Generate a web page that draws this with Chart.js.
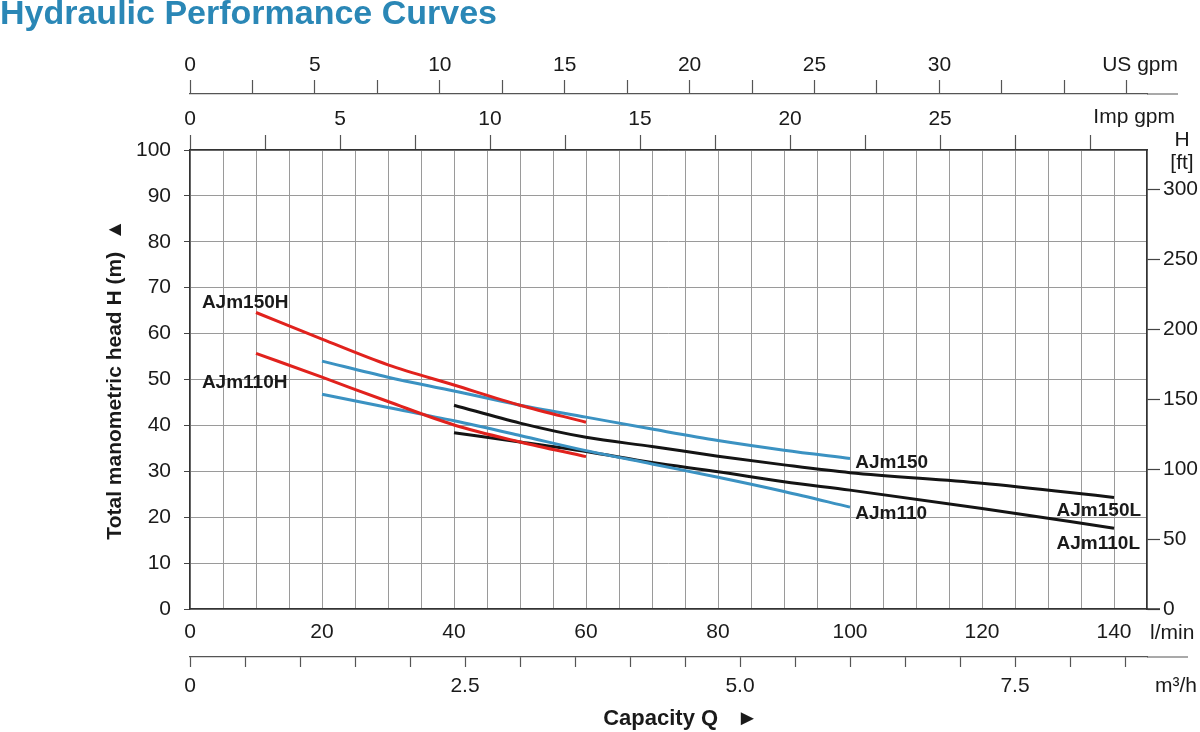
<!DOCTYPE html>
<html>
<head>
<meta charset="utf-8">
<title>Hydraulic Performance Curves</title>
<script src="https://cdn.jsdelivr.net/npm/chart.js@4.4.1/dist/chart.umd.min.js"></script>
<style>
  html, body { margin: 0; padding: 0; background: #fff; }
  canvas { display: block; }
</style>
</head>
<body>
<canvas id="curves" width="1200" height="732"></canvas>
<script>
// capacity in l/min, head in m
const flowH = [10, 20, 30, 40, 50, 60];
const headAJm150H = [64.6, 58.8, 53.2, 48.8, 44.4, 40.7];
const headAJm110H = [55.7, 50.5, 45.2, 40.1, 36.4, 33.2];

const flowStd = [20, 30, 40, 50, 60, 70, 80, 90, 100];
const headAJm150 = [54.0, 50.5, 47.5, 44.4, 41.8, 39.2, 36.7, 34.6, 32.8];
const headAJm110 = [46.8, 43.9, 41.0, 37.8, 34.5, 31.6, 28.7, 25.6, 22.2];

const flowL = [40, 50, 60, 70, 80, 90, 100, 120, 140];
const headAJm150L = [44.4, 40.5, 37.4, 35.4, 33.3, 31.4, 29.7, 27.4, 24.3];
const headAJm110L = [38.4, 36.4, 34.3, 31.9, 29.9, 27.7, 25.9, 21.9, 17.6];

const seriesNames = ['AJm150H', 'AJm110H', 'AJm150', 'AJm110', 'AJm150L', 'AJm110L'];

// tick labels shown on the secondary scales (the rest are bare tick marks)
const usGpmLabels = [0, 5, 10, 15, 20, 25, 30];
const impGpmLabels = [0, 5, 10, 15, 20, 25];
const m3hLabels = [0, 2.5, 5, 7.5];

// axis ranges and unit conversions
const flowMax = 145;   // l/min
const headMax = 100;   // m
const LPM_PER_USGPM = 3.785;
const LPM_PER_IMPGPM = 4.546;
const LPM_PER_M3H = 1000 / 60;
const M_PER_FT = 0.3048;

const RED = '#e1221d', BLUE = '#3b92c2', BLACK = '#141414';
const GRID = '#9a9a9a', FRAME = '#333';

Chart.defaults.font.family = "'Liberation Sans', Arial, sans-serif";
Chart.defaults.font.size = 21;
Chart.defaults.color = '#1a1a1a';

function pts(xs, ys) {
  return xs.map((x, i) => ({ x: x, y: ys[i] }));
}
function isMult(v, m) {
  return Math.abs(v / m - Math.round(v / m)) < 1e-6;
}
function hasLabel(list, v) {
  return list.some(l => Math.abs(l - v) < 1e-6);
}
// tick marks every `step` from 0 up to the scale max
function stepTicks(step) {
  return function (scale) {
    const out = [];
    for (let i = 0; i * step <= scale.max + 1e-9; i++) out.push({ value: i * step });
    scale.ticks = out;
  };
}
function curve(name, xs, ys, color) {
  return {
    label: name,
    data: pts(xs, ys),
    borderColor: color,
    borderWidth: 3,
    pointRadius: 0,
    fill: false,
    cubicInterpolationMode: 'monotone'
  };
}

// where each curve name is written, in l/min and m
const nameSpots = [
  { q: 1.8, h: 66.8 },
  { q: 1.8, h: 49.2 },
  { q: 100.8, h: 31.9 },
  { q: 100.8, h: 20.8 },
  { q: 131.3, h: 21.4 },
  { q: 131.3, h: 14.3 }
];

const extras = {
  id: 'extras',
  afterDraw(chart) {
    const ctx = chart.ctx;
    const ca = chart.chartArea;
    const s = chart.scales;
    ctx.save();

    // axis lines running past the plot on the right
    ctx.strokeStyle = '#555';
    ctx.lineWidth = 1.2;
    ctx.beginPath();
    ctx.moveTo(ca.right, s.us.bottom); ctx.lineTo(ca.right + 31, s.us.bottom);
    ctx.moveTo(ca.right, s.m3h.top); ctx.lineTo(ca.right + 41, s.m3h.top);
    ctx.stroke();
    ctx.strokeStyle = FRAME;
    ctx.lineWidth = 1.5;
    ctx.beginPath();
    ctx.moveTo(ca.right, ca.bottom); ctx.lineTo(ca.right + 13, ca.bottom);
    ctx.stroke();

    // unit labels
    ctx.fillStyle = '#1a1a1a';
    ctx.font = "21px 'Liberation Sans', Arial, sans-serif";
    ctx.textBaseline = 'middle';
    ctx.textAlign = 'right';
    ctx.fillText('US gpm', ca.right + 31, s.us.bottom - 29);
    ctx.fillText('Imp gpm', ca.right + 28, s.imp.bottom - 33);
    ctx.textAlign = 'center';
    ctx.fillText('H', ca.right + 35, ca.top - 10);
    ctx.fillText('[ft]', ca.right + 35, ca.top + 13);
    ctx.textAlign = 'left';
    ctx.fillText('l/min', ca.right + 3, ca.bottom + 24);
    ctx.fillText('m³/h', ca.right + 8, s.m3h.top + 29);

    // curve names
    ctx.font = "bold 19px 'Liberation Sans', Arial, sans-serif";
    seriesNames.forEach((name, i) => {
      const p = nameSpots[i];
      ctx.fillText(name, s.x.getPixelForValue(p.q), s.y.getPixelForValue(p.h));
    });
    ctx.restore();
  }
};

new Chart(document.getElementById('curves'), {
  type: 'line',
  data: {
    datasets: [
      curve(seriesNames[0], flowH, headAJm150H, RED),
      curve(seriesNames[1], flowH, headAJm110H, RED),
      curve(seriesNames[2], flowStd, headAJm150, BLUE),
      curve(seriesNames[3], flowStd, headAJm110, BLUE),
      curve(seriesNames[4], flowL, headAJm150L, BLACK),
      curve(seriesNames[5], flowL, headAJm110L, BLACK)
    ]
  },
  options: {
    responsive: false,
    animation: false,
    events: [],
    layout: { padding: 0 },
    plugins: {
      legend: { display: false },
      tooltip: { enabled: false },
      title: {
        display: true,
        text: 'Hydraulic Performance Curves',
        align: 'start',
        color: '#2a87b6',
        font: { size: 34, weight: 'bold', lineHeight: 0.85 },
        padding: { top: 0, bottom: 19.1 }
      }
    },
    scales: {
      x: {
        type: 'linear', position: 'bottom', weight: 1,
        min: 0, max: flowMax,
        afterBuildTicks: stepTicks(5),
        ticks: { autoSkip: false, maxRotation: 0, padding: 11,
          callback: v => isMult(v, 20) ? v : '' },
        grid: { color: GRID, lineWidth: 1, drawTicks: false },
        border: { color: FRAME, width: 1.5 },
        afterFit: a => { a.height = 48; }
      },
      m3h: {
        type: 'linear', position: 'bottom', weight: 2,
        min: 0, max: flowMax / LPM_PER_M3H,
        afterBuildTicks: stepTicks(0.5),
        ticks: { autoSkip: false, maxRotation: 0, padding: 7,
          callback: v => !hasLabel(m3hLabels, v) ? '' : (v === 0 ? '0' : v.toFixed(1)) },
        grid: { drawOnChartArea: false, tickLength: 10, tickColor: '#555', tickWidth: 1.2 },
        border: { color: '#555', width: 1.2 },
        title: { display: true, text: '    Capacity Q   ►', font: { size: 22, weight: 'bold' }, padding: 0 },
        afterFit: a => { a.height = 75; }
      },
      imp: {
        type: 'linear', position: 'top', weight: 1,
        min: 0, max: flowMax / LPM_PER_IMPGPM,
        afterBuildTicks: stepTicks(2.5),
        ticks: { autoSkip: false, maxRotation: 0, padding: 3,
          callback: v => hasLabel(impGpmLabels, v) ? Math.round(v) : '' },
        grid: { drawOnChartArea: false, tickLength: 15, tickColor: '#555', tickWidth: 1.2 },
        border: { color: FRAME, width: 1.5 },
        afterFit: a => { a.height = 56; }
      },
      us: {
        type: 'linear', position: 'top', weight: 2,
        min: 0, max: flowMax / LPM_PER_USGPM,
        afterBuildTicks: stepTicks(2.5),
        ticks: { autoSkip: false, maxRotation: 0, padding: 2,
          callback: v => hasLabel(usGpmLabels, v) ? Math.round(v) : '' },
        grid: { drawOnChartArea: false, tickLength: 14, tickColor: '#555', tickWidth: 1.2 },
        border: { color: '#555', width: 1.2 },
        afterFit: a => { a.height = 46; }
      },
      y: {
        type: 'linear', position: 'left',
        min: 0, max: headMax,
        afterBuildTicks: stepTicks(10),
        ticks: { padding: 13 },
        grid: { color: GRID, lineWidth: 1, tickLength: 6, tickColor: '#444' },
        border: { color: FRAME, width: 1.5 },
        title: { display: true, text: 'Total manometric head H (m)  ▲',
          font: { size: 21, weight: 'bold' }, padding: { top: 103, bottom: 0 } },
        afterFit: a => { a.width = 190; }
      },
      y2: {
        type: 'linear', position: 'right',
        min: 0, max: headMax / M_PER_FT,
        afterBuildTicks: stepTicks(50),
        ticks: { padding: 3 },
        grid: { drawOnChartArea: false, tickLength: 13, tickColor: '#444', tickWidth: 1.2 },
        border: { color: FRAME, width: 1.5 },
        afterFit: a => { a.width = 53; }
      }
    }
  },
  plugins: [extras]
});
</script>
</body>
</html>
